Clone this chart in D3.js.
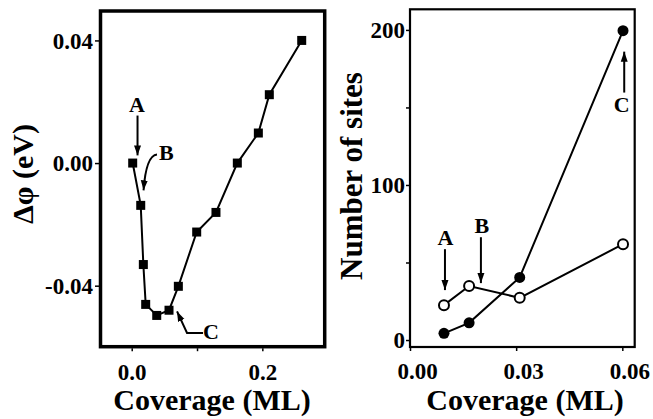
<!DOCTYPE html>
<html>
<head>
<meta charset="utf-8">
<script src="https://cdn.jsdelivr.net/npm/d3@7/dist/d3.min.js"></script>
<style>
html,body{margin:0;padding:0;background:#fff;}
svg{display:block;}
text{font-family:"Liberation Serif","Times New Roman",serif;font-weight:bold;fill:#000;}
</style>
</head>
<body>
<svg id="chart" width="653" height="419"></svg>
<script>
// ---- Left panel data: work function change vs coverage ----
const leftCoverage = [0.0015, 0.0138, 0.0178, 0.0214, 0.0383, 0.0571, 0.0714, 0.0995, 0.129, 0.1617, 0.1939, 0.2107, 0.2603];
const leftDphi     = [0.000, -0.0138, -0.0331, -0.0461, -0.0497, -0.0480, -0.0402, -0.0225, -0.0161, 0.000, 0.0098, 0.0223, 0.040];
const leftXTicks = [0.0, 0.1, 0.2];
const leftXTickLabels = ["0.0", "", "0.2"];
const leftYTicks = [0.04, 0.00, -0.04];
const leftYTickLabels = ["0.04", "0.00", "-0.04"];

// ---- Right panel data: number of sites vs coverage ----
const rightCoverage = [0.0096, 0.0167, 0.031, 0.0602];
const sitesOpen   = [22.5, 34.8, 27.2, 61.8];
const sitesFilled = [4.3, 11.1, 40.4, 199.5];
const rightXTicks = [0.00, 0.03, 0.06];
const rightXTickLabels = ["0.00", "0.03", "0.06"];
const rightYTicks = [0, 50, 100, 150, 200];
const rightYTickLabels = ["0", "", "100", "", "200"];

const TICK_FONT = 23;
const svg = d3.select("#chart");
const defs = svg.append("defs");
defs.append("marker").attr("id","ah").attr("viewBox","0 0 10 10")
  .attr("refX",10).attr("refY",5).attr("markerWidth",10).attr("markerHeight",10)
  .attr("markerUnits","userSpaceOnUse").attr("orient","auto")
  .append("path").attr("d","M0,1.5 L10,5 L0,8.5 Z").attr("fill","#000");

function styleAxis(g, dy, dx){
  g.select(".domain").remove();
  g.selectAll("line").attr("stroke","#000").attr("stroke-width",1.5);
  g.selectAll("text").attr("font-size",TICK_FONT).attr("font-family","Liberation Serif")
    .attr("font-weight","bold").attr("dy",dy).attr("dx",dx||0);
}

// ================= LEFT PANEL =================
const xL = d3.scaleLinear().domain([-0.0478, 0.2955]).range([100.5, 324.7]);
const yL = d3.scaleLinear().domain([-0.0599, 0.0496]).range([346.7, 11]);
const gL = svg.append("g");

gL.append("rect").attr("x", xL(-0.0478)).attr("y", yL(0.0496))
  .attr("width", xL(0.2955)-xL(-0.0478)).attr("height", yL(-0.0599)-yL(0.0496))
  .attr("fill","none").attr("stroke","#000").attr("stroke-width",3.5);

const axLY = d3.axisLeft(yL).tickValues(leftYTicks).tickSize(4).tickPadding(2)
  .tickFormat((d,i)=>leftYTickLabels[i]);
gL.append("g").attr("transform",`translate(${xL(-0.0478)-1.5},0)`).call(axLY)
  .call(g=>styleAxis(g,"0.34em"));
const axLX = d3.axisBottom(xL).tickValues(leftXTicks).tickSize(3).tickPadding(12)
  .tickFormat((d,i)=>leftXTickLabels[i]);
gL.append("g").attr("transform",`translate(0,${yL(-0.0599)+1.5})`).call(axLX)
  .call(g=>styleAxis(g,"0.71em"));

const leftPts = leftCoverage.map((c,i)=>[c,leftDphi[i]]);
gL.append("path").datum(leftPts)
  .attr("d", d3.line().x(d=>xL(d[0])).y(d=>yL(d[1])))
  .attr("fill","none").attr("stroke","#000").attr("stroke-width",2);
gL.selectAll("rect.pt").data(leftPts).enter().append("rect").attr("class","pt")
  .attr("x",d=>xL(d[0])-4.5).attr("y",d=>yL(d[1])-4.5)
  .attr("width",9).attr("height",9).attr("fill","#000");

// annotations (data coordinates)
gL.append("text").attr("x",xL(0.0081)).attr("y",yL(0.0165)).attr("text-anchor","middle").attr("font-size",22).text("A");
gL.append("line").attr("x1",xL(0.0089)).attr("y1",yL(0.0155)).attr("x2",xL(0.0089)).attr("y2",yL(0.0025))
  .attr("stroke","#000").attr("stroke-width",2).attr("marker-end","url(#ah)");
gL.append("text").attr("x",xL(0.0418)).attr("y",yL(0.0009)).attr("font-size",22).text("B");
gL.append("path").attr("d",`M${xL(0.0387)},${yL(0.0028)} Q${xL(0.022)},${yL(0.0025)} ${xL(0.0181)},${yL(-0.0089)}`)
  .attr("fill","none").attr("stroke","#000").attr("stroke-width",2).attr("marker-end","url(#ah)");
gL.append("text").attr("x",xL(0.1092)).attr("y",yL(-0.0575)).attr("font-size",22).text("C");
gL.append("path").attr("d",`M${xL(0.1092)},${yL(-0.0554)} L${xL(0.0847)},${yL(-0.0554)} L${xL(0.0694)},${yL(-0.0484)}`)
  .attr("fill","none").attr("stroke","#000").attr("stroke-width",2).attr("marker-end","url(#ah)");

gL.append("text").attr("transform",`translate(22,174) rotate(-90)`).attr("text-anchor","middle")
  .attr("dominant-baseline","central").attr("font-size",30).text("Δφ (eV)");
gL.append("text").attr("x",212).attr("y",410).attr("text-anchor","middle").attr("font-size",30).text("Coverage (ML)");

// ================= RIGHT PANEL =================
const xR = d3.scaleLinear().domain([0, 0.0635]).range([410, 634.7]);
const yR = d3.scaleLinear().domain([-4.5, 213.3]).range([347, 9.3]);
const gR = svg.append("g");

gR.append("rect").attr("x", xR(0)).attr("y", yR(213.3))
  .attr("width", xR(0.0635)-xR(0)).attr("height", yR(-4.5)-yR(213.3))
  .attr("fill","none").attr("stroke","#000").attr("stroke-width",2.2);

const axRY = d3.axisLeft(yR).tickValues(rightYTicks).tickSize(3).tickPadding(1)
  .tickFormat((d,i)=>rightYTickLabels[i]);
gR.append("g").attr("transform",`translate(${xR(0)-1},0)`).call(axRY)
  .call(g=>styleAxis(g,"0.34em"));
const axRX = d3.axisBottom(xR).tickValues(rightXTicks).tickSize(3).tickPadding(12)
  .tickFormat((d,i)=>rightXTickLabels[i]);
gR.append("g").attr("transform",`translate(0,${yR(-4.5)+1})`).call(axRX)
  .call(g=>styleAxis(g,"0.71em",7));

const openPts = rightCoverage.map((c,i)=>[c,sitesOpen[i]]);
const fillPts = rightCoverage.map((c,i)=>[c,sitesFilled[i]]);
const lineR = d3.line().x(d=>xR(d[0])).y(d=>yR(d[1]));
gR.append("path").datum(fillPts).attr("d",lineR).attr("fill","none").attr("stroke","#000").attr("stroke-width",2);
gR.append("path").datum(openPts).attr("d",lineR).attr("fill","none").attr("stroke","#000").attr("stroke-width",2);
gR.selectAll("circle.f").data(fillPts).enter().append("circle").attr("class","f")
  .attr("cx",d=>xR(d[0])).attr("cy",d=>yR(d[1])).attr("r",5.5).attr("fill","#000");
gR.selectAll("circle.o").data(openPts).enter().append("circle").attr("class","o")
  .attr("cx",d=>xR(d[0])).attr("cy",d=>yR(d[1])).attr("r",5).attr("fill","#fff")
  .attr("stroke","#000").attr("stroke-width",2);

gR.append("text").attr("x",xR(0.0100)).attr("y",yR(61.2)).attr("text-anchor","middle").attr("font-size",22).text("A");
gR.append("line").attr("x1",xR(0.00988)).attr("y1",yR(58.6)).attr("x2",xR(0.00988)).attr("y2",yR(32.2))
  .attr("stroke","#000").attr("stroke-width",2).attr("marker-end","url(#ah)");
gR.append("text").attr("x",xR(0.0203)).attr("y",yR(68.9)).attr("text-anchor","middle").attr("font-size",22).text("B");
gR.append("line").attr("x1",xR(0.02004)).attr("y1",yR(66.3)).attr("x2",xR(0.02004)).attr("y2",yR(36.7))
  .attr("stroke","#000").attr("stroke-width",2).attr("marker-end","url(#ah)");
gR.append("text").attr("x",xR(0.0598)).attr("y",yR(146.8)).attr("text-anchor","middle").attr("font-size",22).text("C");
gR.append("line").attr("x1",xR(0.06054)).attr("y1",yR(159.6)).attr("x2",xR(0.06054)).attr("y2",yR(186))
  .attr("stroke","#000").attr("stroke-width",2).attr("marker-end","url(#ah)");

gR.append("text").attr("transform",`translate(351,176) rotate(-90)`).attr("text-anchor","middle")
  .attr("dominant-baseline","central").attr("font-size",31).text("Number of sites");
gR.append("text").attr("x",525).attr("y",410).attr("text-anchor","middle").attr("font-size",30).text("Coverage (ML)");
</script>
</body>
</html>
